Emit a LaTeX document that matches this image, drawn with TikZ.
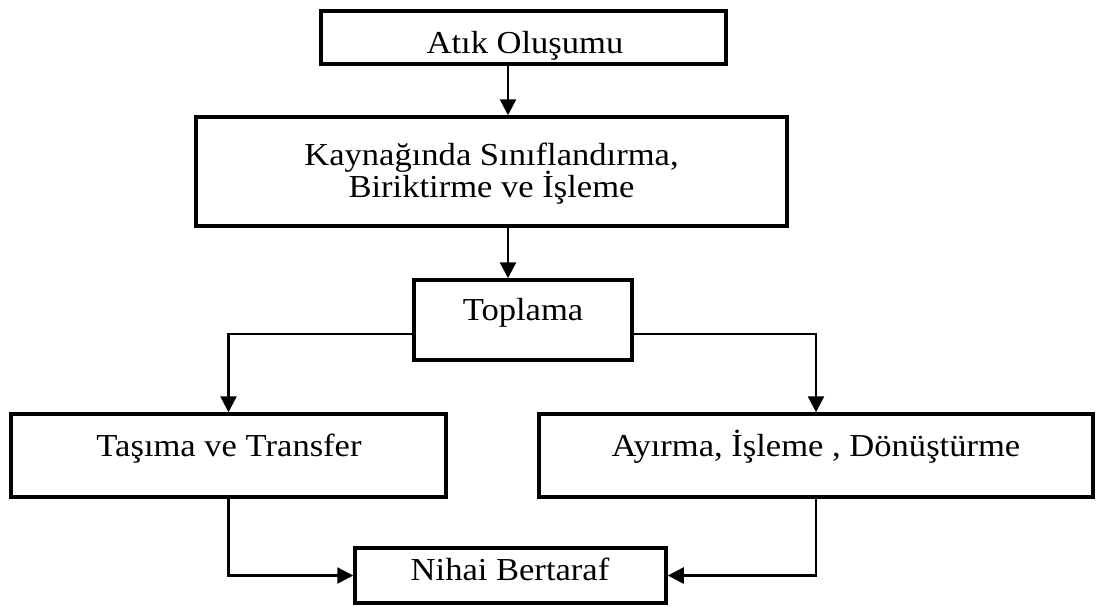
\documentclass[tikz,border=0pt]{standalone}
\usepackage{fontspec}
\setmainfont{Liberation Serif}[FakeStretch=1.08]
\usetikzlibrary{arrows.meta}
\begin{document}
\begin{tikzpicture}[x=1pt,y=-1pt,
  boxst/.style={draw=black,line width=3.5pt,fill=white,rectangle,inner sep=0pt},
  txt/.style={anchor=base,inner sep=0pt,font=\fontsize{32}{38}\selectfont},
  arr/.style={draw=black,line width=2.5pt,-{Triangle[length=16pt,width=16pt]}}]
\useasboundingbox (0,0) rectangle (1099,606);
\node[boxst,minimum width=405pt,minimum height=53pt] (b1) at (523.5,37.5) {};
\node[boxst,minimum width=591pt,minimum height=109pt] (b2) at (491.5,171.5) {};
\node[boxst,minimum width=218pt,minimum height=80pt] (b3) at (523,320) {};
\node[boxst,minimum width=435pt,minimum height=83pt] (b4) at (228.5,455.5) {};
\node[boxst,minimum width=554pt,minimum height=83pt] (b5) at (816,455.5) {};
\node[boxst,minimum width=311pt,minimum height=55pt] (b6) at (510.5,575.5) {};
\node[txt] (t1) at (525,53) {Atık Oluşumu};
\node[txt] (t2a) at (491.5,165) {Kaynağında Sınıflandırma,};
\node[txt] (t2b) at (491.5,197) {Biriktirme ve İşleme};
\node[txt] (t3) at (523,320) {Toplama};
\node[txt] (t4) at (229,456) {Taşıma ve Transfer};
\node[txt] (t5) at (816,456) {Ayırma, İşleme , Dönüştürme};
\node[txt] (t6) at (510,580) {Nihai Bertaraf};
\coordinate (ax) at (508,0);
\draw[arr] (b1.south -| ax) -- (b2.north -| ax);
\draw[arr] (b2.south -| ax) -- (b3.north -| ax);
\draw[arr] ([yshift=-14pt]b3.west) -| (b4.north);
\draw[arr] ([yshift=-14pt]b3.east) -| (b5.north);
\draw[arr] (b4.south) |- (b6.west);
\draw[arr] (b5.south) |- (b6.east);
\end{tikzpicture}
\end{document}
